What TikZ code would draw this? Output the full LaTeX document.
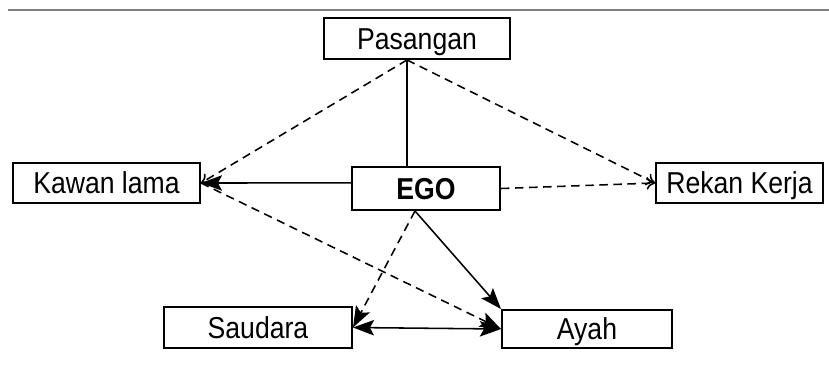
\documentclass[tikz,border=0pt]{standalone}
\usepackage{fontspec}
\setmainfont[FakeStretch=0.88]{Liberation Sans}
\usetikzlibrary{arrows.meta}
\begin{document}
\begin{tikzpicture}[x=0.025cm, y=-0.025cm,
    relation/.style ={rectangle, draw, line width=1.4pt, inner sep=0pt, text height=15.4pt, text depth=0pt, font=\fontsize{21.5}{24}\selectfont},
    link/.style ={line width=1.1pt},
    loose/.style ={line width=1.1pt, dash pattern=on 6pt off 4pt},
    head/.style ={-{Stealth[length=15pt,width=11pt,inset=3pt]}},
    thin head/.style ={-{To[length=6pt,width=9pt]}}]
   \useasboundingbox (0,0) rectangle (829,371);
   \draw[gray, line width=1.1pt] (8,10) -- (829,10);
   \node[relation, minimum width=186*0.025cm, minimum height=41*0.025cm] (P)  at (417,38.5)  {Pasangan};
   \node[relation, minimum width=187*0.025cm, minimum height=40*0.025cm] (K)  at (106.5,183)  {Kawan lama};
   \node[relation, minimum width=148*0.025cm, minimum height=43*0.025cm] (E)  at (426,188.5)  {\bfseries EGO};
   \node[relation, minimum width=167*0.025cm, minimum height=40*0.025cm] (R)  at (739.5,183)  {Rekan Kerja};
   \node[relation, minimum width=188*0.025cm, minimum height=41*0.025cm] (S)  at (258,327.5)  {Saudara};
   \node[relation, minimum width=170*0.025cm, minimum height=38*0.025cm] (A)  at (587,329)  {Ayah};
   \draw[link] ([xshift=-0.25cm]P.south) to ([xshift=-0.475cm]E.north);
   \draw[loose, thin head] ([xshift=-0.25cm]P.south) to (K.east);
   \draw[loose, thin head] ([xshift=-0.25cm]P.south) to (R.west);
   \draw[link, head] ([yshift=0.14cm]E.west) to (K.east);
   \draw[loose, thin head] (E.east) to (R.west);
   \draw[link, head] ([xshift=-0.275cm]E.south) to (A.north west);
   \draw[loose, head] ([xshift=-0.275cm]E.south) to (S.east);
   \draw[loose, head] (K.east) to (A.west);
   \draw[link, {Stealth[length=15pt,width=11pt,inset=3pt]}-{Stealth[length=15pt,width=11pt,inset=3pt]}] (S.east) to (A.west);
\end{tikzpicture}
\end{document}
